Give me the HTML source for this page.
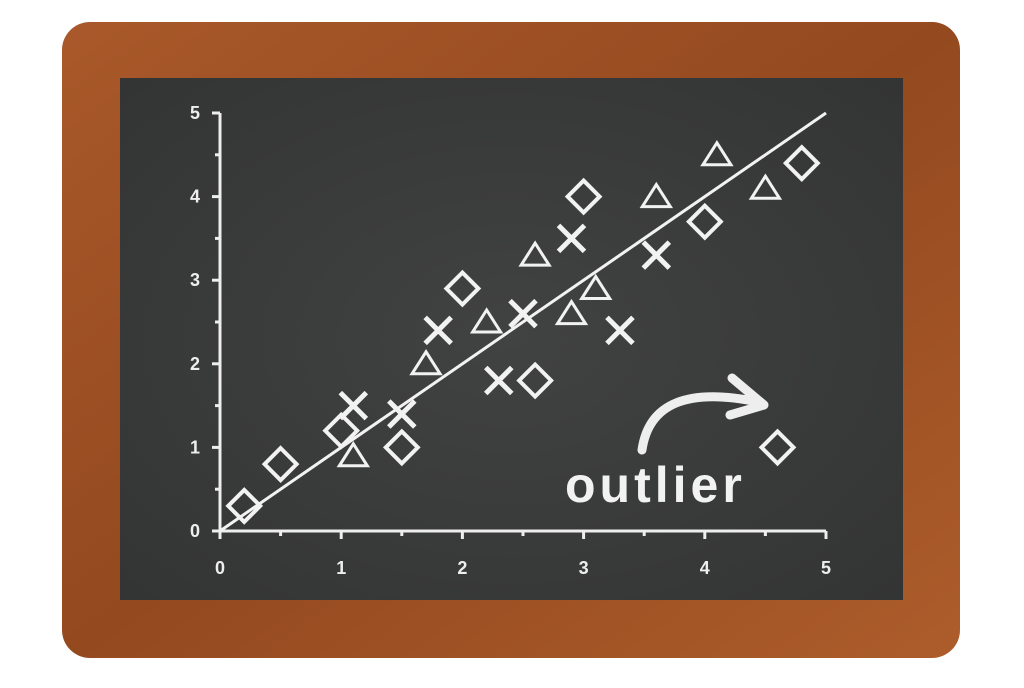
<!DOCTYPE html>
<html><head><meta charset="utf-8"><style>
html,body{margin:0;padding:0;background:#fff;}
body{width:1024px;height:683px;overflow:hidden;font-family:"Liberation Sans",sans-serif;}
</style></head><body>
<svg width="1024" height="683" viewBox="0 0 1024 683">
<defs>
<linearGradient id="wood" x1="0" y1="0" x2="1" y2="1">
<stop offset="0" stop-color="#a9592a"/><stop offset="0.5" stop-color="#94491f"/><stop offset="1" stop-color="#ad5d2b"/>
</linearGradient>
<radialGradient id="board" cx="0.5" cy="0.5" r="0.7">
<stop offset="0" stop-color="#414242"/><stop offset="1" stop-color="#333434"/>
</radialGradient>
</defs>
<rect x="62" y="22" width="898" height="636" rx="28" fill="url(#wood)"/>
<rect x="120" y="78" width="783" height="522" fill="url(#board)"/>
<g id="axes" stroke="#eee" stroke-width="3" fill="none"></g>
<g id="marks" stroke="#f2f2f2" stroke-width="4" fill="none"></g>
<g id="labels" fill="#eee" font-size="18" font-weight="bold"></g>
<path d="M642 450 Q652 380 758 402" stroke="#eee" stroke-width="9" fill="none" stroke-linecap="round"/>
<path d="M732 378 L764 405 L730 415" stroke="#eee" stroke-width="9" fill="none" stroke-linecap="round" stroke-linejoin="round"/>
<text x="565" y="502" fill="#f2f2f2" font-size="50" font-weight="bold" letter-spacing="4">outlier</text>
</svg>
<script>
const diamondX=[0.2,0.5,1.0,1.5,2.0,2.6,3.0,4.0,4.8,4.6];
const diamondY=[0.3,0.8,1.2,1.0,2.9,1.8,4.0,3.7,4.4,1.0];
const triangleX=[1.1,1.7,2.2,2.6,2.9,3.1,3.6,4.1,4.5];
const triangleY=[0.9,2.0,2.5,3.3,2.6,2.9,4.0,4.5,4.1];
const crossX=[1.1,1.5,1.8,2.3,2.5,2.9,3.6,3.3];
const crossY=[1.5,1.4,2.4,1.8,2.6,3.5,3.3,2.4];
const fitLine=[[0,0],[5,5]];
const xTicks=[0,1,2,3,4,5];
const yTicks=[0,1,2,3,4,5];
const NS="http://www.w3.org/2000/svg";
const sx=v=>220+v*121.2, sy=v=>531-v*83.6;
function mk(t,a,p){const e=document.createElementNS(NS,t);for(const k in a)e.setAttribute(k,a[k]);p.appendChild(e);return e;}
const ax=document.getElementById('axes'),mg=document.getElementById('marks'),lb=document.getElementById('labels');
let e=mk('line',{x1:sx(0),y1:sy(0),x2:sx(5),y2:sy(0)},ax);


e=mk('line',{x1:sx(0),y1:sy(0),x2:sx(0),y2:sy(5)},ax);


xTicks.forEach(t=>{
 mk('line',{x1:sx(t),y1:sy(0),x2:sx(t),y2:sy(0)+8},ax);
 if(t<5)mk('line',{x1:sx(t+0.5),y1:sy(0),x2:sx(t+0.5),y2:sy(0)+5},ax);
 const l=mk('text',{x:sx(t),y:574,'text-anchor':'middle'},lb);l.textContent=t;
 
 
});
yTicks.forEach(t=>{
 mk('line',{x1:sx(0)-8,y1:sy(t),x2:sx(0),y2:sy(t)},ax);
 if(t<5)mk('line',{x1:sx(0)-5,y1:sy(t+0.5),x2:sx(0),y2:sy(t+0.5)},ax);
 const l=mk('text',{x:200,y:sy(t)+6,'text-anchor':'end'},lb);l.textContent=t;
 
 
});
e=mk('line',{x1:sx(fitLine[0][0]),y1:sy(fitLine[0][1]),x2:sx(fitLine[1][0]),y2:sy(fitLine[1][1]),'stroke-width':3},mg);


diamondX.forEach((x,i)=>{const cx=sx(x),cy=sy(diamondY[i]),r=16;
 e=mk('polygon',{points:`${cx},${cy-r} ${cx+r},${cy} ${cx},${cy+r} ${cx-r},${cy}`},mg);
 
 });
triangleX.forEach((x,i)=>{const cx=sx(x),cy=sy(triangleY[i]);
 e=mk('polygon',{points:`${cx},${cy-12} ${cx+14},${cy+10} ${cx-14},${cy+10}`,'stroke-width':3},mg);
 
 });
crossX.forEach((x,i)=>{const cx=sx(x),cy=sy(crossY[i]),r=13;
 e=mk('path',{d:`M${cx-r} ${cy-r}L${cx+r} ${cy+r}M${cx+r} ${cy-r}L${cx-r} ${cy+r}`,'stroke-width':5},mg);
 
 });
</script>
</body></html>
